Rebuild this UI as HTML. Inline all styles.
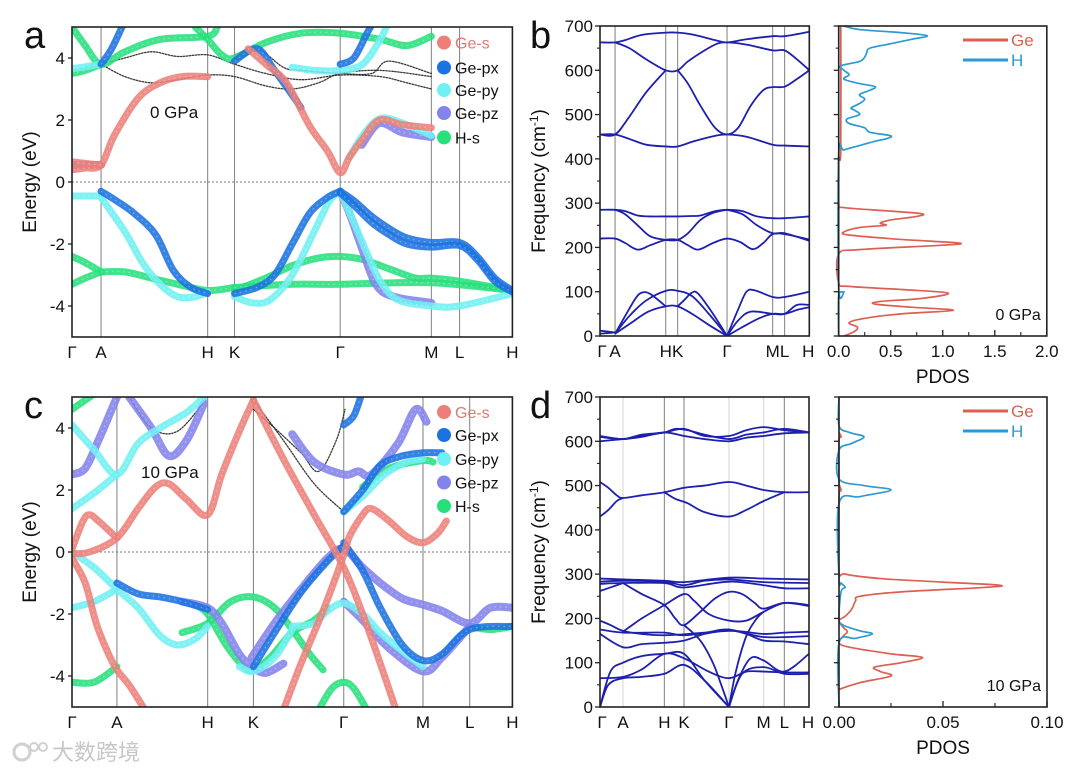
<!DOCTYPE html>
<html><head><meta charset="utf-8"><style>
html,body{margin:0;padding:0;background:#fff;}
svg{display:block;font-family:"Liberation Sans","Noto Sans CJK SC",sans-serif;}
</style></head><body>
<svg id="fig" width="1080" height="772" viewBox="0 0 1080 772">
<defs>
<clipPath id="clipA"><rect x="72" y="27" width="440.4" height="310"/></clipPath>
<clipPath id="clipC"><rect x="72" y="397" width="440.4" height="310"/></clipPath>
<clipPath id="clipB"><rect x="600" y="26" width="209.3" height="310"/></clipPath>
<clipPath id="clipD"><rect x="600" y="397" width="209" height="310"/></clipPath>
</defs>
<g id="root"></g>
</svg>
<script>
// ---------- DATA ----------
const kLabels = ["Γ","A","H","K","Γ","M","L","H"];
const kTicksA = [0,6.6,30.8,36.9,60.9,81.6,88.0,100];
const kTicksC = [0,10.2,30.8,41.2,61.7,79.7,90.3,100];
const kTicksB = [0,7.2,31.4,37.1,60.7,82.5,88.2,100];
const kTicksD = [0,11,30.8,40.2,61.7,78.3,88.2,100];
const energyTicks = [-4,-2,0,2,4];
const freqTicks = [0,100,200,300,400,500,600,700];
const pdosTicksB = [0,0.5,1.0,1.5,2.0];
const pdosTickLabelsB = ["0.0","0.5","1.0","1.5","2.0"];
const pdosTicksD = [0,0.05,0.10];
const pdosTickLabelsD = ["0.00","0.05","0.10"];
const orbitals = ["Ge-s","Ge-px","Ge-py","Ge-pz","H-s"];

// panel a (0 GPa) bands: [k%, E]
const aDotted = [
 [[6.6,3.8],[12,3.4],[18,3.2],[24,3.3],[30.8,3.45],[36.9,3.4],[44,3.1],[50,3.0],[56,3.2],[60.9,3.5],[70,3.6],[81.6,3.4]],
 [[6.6,3.8],[12,4.0],[18,4.2],[24,4.05],[30.8,4.1],[36.9,3.8],[44,3.5],[52,3.3],[60.9,3.45],[70,3.4],[76,3.2],[81.6,3.0]],
 [[36.9,4.1],[42,4.3],[48,3.7],[52,3.6],[60.9,3.5],[68,3.5],[72,3.9],[81.6,3.5]]
];
const aGeS = [
 [[0,0.4],[3,0.45],[6.6,0.55],[9.6,1.5],[15,2.7],[20,3.2],[25,3.4],[30.8,3.4]],
 [[0,0.65],[3,0.6],[6.6,0.55]],
 [[40,4.3],[44,3.8],[48.7,3.2],[54,1.8],[58,1.0],[60.9,0.3],[63,0.8],[65.8,1.35],[69.8,2.0],[75,1.85],[81.6,1.75]]
];
const aGePx = [
 [[6.6,-0.3],[10,-0.6],[14,-1.0],[19,-1.7],[23,-2.85],[27,-3.4],[30.8,-3.6]],
 [[36.9,-3.6],[42,-3.4],[46,-3.0],[50,-2.0],[54,-1.0],[58,-0.5],[60.9,-0.3]],
 [[60.9,-0.3],[64,-0.6],[68,-1.1],[72,-1.5],[76,-1.8],[81.6,-1.95],[88,-1.95],[92,-2.4],[96,-3.1],[100,-3.5]],
 [[60.9,-0.35],[64,-0.75],[68,-1.3],[72,-1.7],[76,-2.0],[81.6,-2.1],[88,-2.05],[92,-2.5],[96,-3.2],[100,-3.55]],
 [[6.6,3.8],[9,4.3],[12,5.2]],
 [[36.9,3.9],[42,4.3],[46,3.6],[52,2.4]],
 [[60.9,3.8],[64,4.0],[67,4.8],[69,5.3]]
];
const aGePy = [
 [[0,-0.45],[6.6,-0.45]],
 [[6.6,-0.5],[12,-1.6],[16,-2.6],[20,-3.3],[24,-3.7],[28,-3.7],[30.8,-3.55]],
 [[36.9,-3.7],[41,-3.9],[45,-3.8],[50,-3.0],[55,-1.6],[58.5,-0.6],[60.9,-0.3]],
 [[60.9,-0.3],[64,-1.3],[67,-2.3],[70,-3.2],[74,-3.8],[81.6,-4.0],[88,-4.0],[100,-3.6]],
 [[0,3.65],[6.6,3.8]],
 [[50,3.7],[55,3.6],[60.9,3.6],[66,3.8],[70,4.6],[72,5.2]],
 [[63,0.8],[66,1.5],[70,2.05],[75,1.9],[81.6,1.5]]
];
const aGePz = [
 [[0,0.55],[3,0.55],[6.6,0.55]],
 [[60.9,-0.3],[63,-1.0],[66,-2.2],[69,-3.3],[73,-3.7],[81.6,-3.9]],
 [[65.8,1.2],[69.8,1.9],[75,1.6],[81.6,1.45]]
];
const aHs = [
 [[0,-2.4],[3,-2.6],[6.6,-2.9]],
 [[0,-3.3],[3,-3.1],[6.6,-2.9]],
 [[6.6,-2.9],[12,-2.9],[18,-3.1],[24,-3.3],[30.8,-3.5],[36.9,-3.4]],
 [[36.9,-3.5],[44,-3.1],[50,-2.7],[56,-2.45],[60.9,-2.4],[66,-2.5],[72,-2.8],[78,-3.1],[81.6,-3.1],[88,-3.2],[100,-3.5]],
 [[36.9,-3.4],[50,-3.3],[60.9,-3.3],[81.6,-3.25],[100,-3.5]],
 [[0,5.0],[3,4.4],[6.6,3.8],[12,4.2],[20,4.6],[30.8,4.7],[33,5.0]],
 [[0,3.5],[3,3.6],[6.6,3.8]],
 [[28,5.0],[30.8,4.6],[34,4.1],[36.9,4.0],[44,4.5],[52,4.8],[60.9,4.8],[70,4.6],[76,4.4],[81.6,4.7]]
];

// panel c (10 GPa) bands
const cDotted = [
 [[13,5],[18,4.0],[24,3.9],[30.8,5]],
 [[41.2,4.9],[48,3.6],[55,2.2],[61.7,1.3]],
 [[41.2,4.6],[46,4.0],[52,3.2],[56,2.6],[60,3.6],[62,4.6]]
];
const cGeS = [
 [[0,-0.2],[3,-1.0],[5.5,-2.3],[8,-3.2],[10.2,-3.8],[13,-4.3],[16.6,-5.1]],
 [[0,0.1],[2.5,1.0],[4,1.2],[6,1.0],[10.2,0.45]],
 [[0,-0.05],[4,0.0],[10.2,0.45],[15,1.4],[19,2.1],[22,2.2],[26,1.7],[30.8,1.2],[34,2.5],[38,3.9],[41.2,4.9]],
 [[41.2,4.9],[48,3.0],[55,1.2],[61.7,-0.5],[66,-2.0],[70,-3.6],[73.6,-5.1]],
 [[48,-5.1],[52,-3.6],[57,-1.9],[61.7,-0.1],[63,0.5],[66,1.2],[68,1.4],[72,1.0],[76,0.5],[79.7,0.3],[83,0.6],[85,1.0]]
];
const cGePx = [
 [[10.2,-1.0],[15,-1.35],[20,-1.45],[25,-1.6],[30.8,-1.85]],
 [[41.2,-3.7],[46,-2.6],[52,-1.3],[58,-0.3],[61.7,0.2]],
 [[61.7,0.3],[66,-0.6],[70,-1.8],[75,-3.0],[79.7,-3.5],[84,-3.3],[90.3,-2.5],[100,-2.4]],
 [[61.7,1.3],[66,2.0],[70,2.8],[75,3.1],[79.7,3.2],[84,3.2]],
 [[61.7,4.1],[64,4.4],[66,5.2]]
];
const cGePy = [
 [[0,1.4],[5,1.9],[10.2,2.5]],
 [[0,4.1],[5,3.3],[10.2,2.5],[15,3.5],[20,4.0],[26,4.5],[30,5.0]],
 [[0,-1.8],[5,-1.6],[10.2,-1.2]],
 [[0,0.0],[5,-0.5],[10.2,-1.2],[15,-1.8],[20,-2.7],[24,-3.0],[28,-2.8],[30.8,-2.4]],
 [[50,-2.4],[55,-2.3],[58,-1.9],[61.7,-1.65],[66,-2.0],[70,-2.6],[75,-3.2],[79.7,-3.7]],
 [[61.7,1.3],[66,1.8],[71,2.5],[76,2.9],[79.7,3.0]],
 [[38,-3.7],[41.2,-3.85],[46,-3.4],[50,-2.5]]
];
const cGePz = [
 [[0,2.5],[3,2.7],[6,3.6],[9,4.6],[10.5,5.1]],
 [[13,5],[18,4.0],[22,3.1],[26,3.6],[30,4.8]],
 [[25,-1.6],[30.8,-1.8],[34,-2.3],[38,-3.3],[41,-3.7],[44,-3.9],[48,-3.6]],
 [[40.8,-3.4],[46,-2.3],[52,-1.2],[58,-0.2],[61.7,0.1],[66,-0.5],[70,-1.0],[75,-1.5],[79.7,-1.7],[84,-1.9],[90.3,-2.3],[95,-1.8],[100,-1.8]],
 [[50,3.8],[55,2.9],[61.7,2.5],[65,2.6],[68,2.5],[74,3.5],[78,4.6],[80.5,4.2]],
 [[61.7,-1.6],[66,-2.2],[72,-3.1],[79.7,-3.85],[84,-3.4],[90.3,-2.4]]
];
const cHs = [
 [[0,-4.2],[5,-4.2],[10.2,-3.7]],
 [[0,4.6],[3,4.9],[5,5.1]],
 [[25,-2.6],[30.8,-2.3],[36,-1.6],[41.2,-1.45],[46,-1.8],[50,-2.5],[54,-3.3],[57,-3.8]],
 [[28,-1.7],[30.8,-2.0],[35,-3.0],[39,-3.7],[41.2,-3.8],[45,-3.4],[50,-2.6],[55,-2.2],[58,-1.8]],
 [[56,-5.1],[59,-4.4],[61.7,-4.2],[64,-4.4],[67,-5.1]],
 [[66,2.1],[72,2.7],[79.7,2.95],[82,2.9]],
 [[90.3,-2.4],[95,-2.5],[100,-2.4]]
];

// panel b phonons (0 GPa): [k%, freq]
const bPhonons = [
 [[0,663],[7.2,663],[12,668],[20,680],[31.4,685],[37.1,685],[45,680],[55,668],[60.7,663],[70,670],[82.5,677],[88.2,677],[100,687]],
 [[7.2,663],[14,650],[22,625],[31.4,600],[37.1,600],[42,620],[50,645],[56,660],[60.7,663],[70,658],[82.5,645],[88.2,645],[94,625],[100,600]],
 [[0,455],[7.2,455],[14,495],[22,550],[31.4,600]],
 [[37.1,600],[42,570],[48,520],[55,470],[60.7,455],[66,470],[72,520],[78,555],[82.5,562],[88.2,563],[94,580],[100,600]],
 [[0,455],[7.2,455],[14,445],[22,432],[31.4,428],[37.1,428],[45,440],[55,452],[60.7,455],[70,450],[82.5,432],[88.2,430],[100,428]],
 [[0,285],[7.2,285],[12,282],[18,272],[24,270],[31.4,270],[37.1,270],[44,271],[48,272],[55,282],[60.7,285],[68,282],[75,270],[82.5,266],[88.2,266],[100,270]],
 [[7.2,285],[12,275],[18,250],[24,225],[31.4,217],[37.1,217],[42,232],[48,262],[54,278],[60.7,285]],
 [[60.7,285],[68,275],[75,250],[82.5,232],[88.2,232],[100,215]],
 [[0,220],[7.2,220],[12,210],[18,195],[24,205],[31.4,217],[37.1,217],[42,205],[47,195],[54,210],[60.7,220],[67,212],[73,196],[78,210],[82.5,230],[88.2,230],[100,218]],
 [[7.2,5],[12,45],[17,85],[20,98],[24,95],[31.4,67]],
 [[7.2,5],[14,45],[22,80],[31.4,102],[37.1,102],[44,90],[52,50],[60.7,0]],
 [[7.2,5],[15,30],[23,55],[31.4,67],[37.1,67],[44,50],[52,25],[60.7,0]],
 [[37.1,67],[40,80],[44,98],[47,95],[54,50],[60.7,0]],
 [[60.7,0],[66,60],[70,100],[74,103],[82.5,88],[88.2,88],[100,100]],
 [[60.7,0],[66,35],[72,55],[82.5,50],[88.2,50],[94,70],[100,70]],
 [[60.7,0],[68,20],[76,40],[82.5,50],[88.2,50],[95,60],[100,65]],
 [[0,12],[7.2,8]],
 [[0,5],[7.2,8]]
];
// panel d phonons (10 GPa)
const dPhonons = [
 [[0,612],[11,605],[20,612],[30.8,620],[40.2,628],[50,612],[61.7,612],[70,625],[78.3,632],[88.2,625],[100,620]],
 [[0,600],[11,605],[20,610],[30.8,620],[40.2,612],[50,605],[61.7,600],[70,608],[78.3,612],[88.2,618],[100,620]],
 [[0,610],[11,605],[20,615],[30.8,620],[36,628],[42,625],[50,615],[61.7,605],[70,615],[78.3,620],[88.2,628],[100,620]],
 [[0,508],[4,495],[8,478],[11,472],[20,478],[30.8,485],[40.2,495],[50,500],[61.7,508],[70,500],[78.3,490],[88.2,485],[100,485]],
 [[0,430],[4,445],[8,465],[11,472]],
 [[30.8,485],[36,470],[42,460],[50,440],[61.7,430],[70,445],[78.3,465],[88.2,485]],
 [[0,290],[11,288],[30.8,285],[40.2,282],[61.7,292],[78.3,290],[100,288]],
 [[0,283],[11,285],[30.8,283],[40.2,275],[50,285],[61.7,288],[78.3,282],[100,280]],
 [[0,278],[11,280],[30.8,280],[40.2,270],[61.7,283],[78.3,275],[88.2,268],[100,268]],
 [[0,262],[5,270],[11,280]],
 [[11,170],[20,200],[30.8,230],[40.2,255],[45,240],[52,210],[61.7,195],[70,195],[78.3,215],[88.2,235],[100,230]],
 [[11,280],[20,255],[30.8,230],[36,200],[40.2,185],[48,215],[55,245],[61.7,260],[68,255],[74,235],[78.3,222],[88.2,235],[100,228]],
 [[40.2,185],[48,150],[54,100],[58,50],[61.7,0]],
 [[0,175],[11,168],[30.8,168],[40.2,162],[61.7,172],[78.3,165],[88.2,168],[100,170]],
 [[0,195],[5,185],[11,172],[20,165],[30.8,162],[50,168],[61.7,175],[78.3,158],[100,160]],
 [[0,165],[11,135],[20,142],[30.8,145],[40.2,150],[50,165],[61.7,175]],
 [[61.7,175],[70,165],[78.3,150],[88.2,148],[100,142]],
 [[0,0],[4,50],[11,65],[20,68],[30.8,75],[40.2,95],[50,60],[61.7,0]],
 [[0,0],[5,80],[11,100],[20,115],[30.8,120],[40.2,120],[50,60],[61.7,0]],
 [[0,65],[11,68],[20,85],[30.8,120],[40.2,110],[52,80],[61.7,65],[70,80],[78.3,80],[88.2,78],[100,78]],
 [[61.7,0],[66,60],[72,110],[78.3,105],[88.2,80],[100,120]],
 [[61.7,0],[68,75],[78.3,90],[88.2,75],[100,75]],
 [[61.7,0],[65,80],[70,160],[75,200],[78.3,215]]
];

// PDOS: [freq, dos]
const bPdosH = [[0,0],[90,0],[100,0.05],[110,0],[410,0],[420,0.05],[430,0.2],[440,0.35],[445,0.45],[452,0.5],[460,0.3],[470,0.25],[480,0.1],[490,0.08],[500,0.2],[510,0.15],[515,0.12],[525,0.2],[535,0.25],[545,0.2],[555,0.3],[563,0.35],[570,0.2],[580,0.05],[590,0.1],[600,0.05],[610,0.02],[620,0.2],[630,0.25],[640,0.27],[650,0.3],[660,0.5],[670,0.7],[678,0.85],[685,0.6],[692,0.2],[700,0.05]];
const bPdosGe = [[0,0.05],[10,0.15],[20,0.18],[30,0.1],[40,0.25],[50,0.6],[58,1.1],[65,0.7],[72,0.35],[78,0.4],[85,0.8],[97,1.05],[105,0.6],[112,0.1],[120,0.0],[185,0.0],[195,0.2],[205,1.0],[210,1.15],[218,0.6],[228,0.1],[235,0.05],[245,0.2],[250,0.45],[255,0.4],[262,0.5],[270,0.75],[276,0.8],[282,0.5],[290,0.05],[300,0.0],[400,0.0],[420,0.02],[700,0.02]];
const dPdosH = [[0,0],[145,0],[155,0.008],[165,0.016],[172,0.01],[185,0.002],[200,0],[260,0.001],[270,0.003],[280,0.001],[290,0],[460,0],[475,0.01],[490,0.025],[500,0.012],[515,0],[580,0],[595,0.006],[610,0.012],[620,0.005],[635,0],[700,0]];
const dPdosGe = [[40,0],[55,0.01],[70,0.025],[80,0.02],[90,0.017],[100,0.03],[112,0.04],[120,0.025],[135,0.005],[145,0.0],[160,0.002],[170,0.004],[180,0.002],[195,0.0],[205,0.003],[220,0.006],[240,0.008],[250,0.01],[260,0.03],[270,0.07],[275,0.077],[282,0.05],[290,0.02],[300,0.003],[310,0],[470,0],[490,0.001],[510,0],[600,0],[610,0.001],[620,0]];

// ---------- DRAWING ----------
const NS = "http://www.w3.org/2000/svg";
const root = document.getElementById("root");
function el(tag, attrs, parent){
  const e = document.createElementNS(NS, tag);
  for (const k in attrs) e.setAttribute(k, attrs[k]);
  (parent||root).appendChild(e);
  return e;
}
function txt(s, attrs, parent){ const t = el("text", attrs, parent); t.textContent = s; return t; }
function lin(a,b,c,d){ return v => c + (v-a)*(d-c)/(b-a); }
function smooth(pts){
  if (pts.length<2) return "";
  let d = "M"+pts[0][0].toFixed(2)+","+pts[0][1].toFixed(2);
  for (let i=0;i<pts.length-1;i++){
    const p0=pts[i-1]||pts[i], p1=pts[i], p2=pts[i+1], p3=pts[i+2]||pts[i+1];
    const c1x=p1[0]+(p2[0]-p0[0])/6, c1y=p1[1]+(p2[1]-p0[1])/6;
    const c2x=p2[0]-(p3[0]-p1[0])/6, c2y=p2[1]-(p3[1]-p1[1])/6;
    d += " C"+c1x.toFixed(2)+","+c1y.toFixed(2)+" "+c2x.toFixed(2)+","+c2y.toFixed(2)+" "+p2[0].toFixed(2)+","+p2[1].toFixed(2);
  }
  return d;
}

function bandPanel(cfg){
  const {x0,x1,y0,y1,kt,clip,name} = cfg;
  const X = lin(0,100,x0,x1), Y = lin(-5,5,y1,y0);
  const g = el("g",{});
  
  
  kt.slice(1,-1).forEach((k,i)=>{
    const l = el("line",{x1:X(k),x2:X(k),y1:y0,y2:y1,stroke:"#8a8a8a","stroke-width":1.1},g);
    
    
  });
  const zl = el("line",{x1:x0,x2:x1,y1:Y(0),y2:Y(0),stroke:"#777","stroke-width":0.9,"stroke-dasharray":"2,2"},g);
  
  
  const bg = el("g",{"clip-path":"url(#"+clip+")"},g);
  const series = [
    [cfg.dotted,"#222",1.3,"1.5,1.5","dotted-band"],
    [cfg.hs,"#27e07c",7,null,"h-s-band"],
    [cfg.pz,"#8383ec",8,null,"ge-pz-band"],
    [cfg.py,"#6ff0f2",7,null,"ge-py-band"],
    [cfg.px,"#1b72e0",7,null,"ge-px-band"],
    [cfg.s,"#ec8079",7,null,"ge-s-band"]
  ];
  series.forEach(([bands,col,w,dash,nm])=>{
    bands.forEach(b=>{
      const pts = b.map(p=>[X(p[0]),Y(p[1])]);
      const a = {d:smooth(pts),fill:"none",stroke:col,"stroke-width":w,"stroke-linecap":"round","stroke-linejoin":"round","stroke-opacity":dash?0.9:0.88};
      if (dash) a["stroke-dasharray"]=dash;
      const p = el("path",a,bg);
      
      
      if (!dash){
        const p2 = el("path",{d:smooth(pts),fill:"none",stroke:"#ffffff","stroke-width":1.2,"stroke-opacity":0.35,"stroke-dasharray":"1.5,4"},bg);
        
        
      }
    });
  });
  const fr = el("rect",{x:x0,y:y0,width:x1-x0,height:y1-y0,fill:"none",stroke:"#222","stroke-width":1.6},g);
  
  
  energyTicks.forEach(v=>{
    const t = el("line",{x1:x0-4,x2:x0,y1:Y(v),y2:Y(v),stroke:"#222","stroke-width":1.3},g);
    
    
    const tl = txt(String(v),{x:x0-7,y:Y(v)+6,"text-anchor":"end","font-size":17,fill:"#111"},g);
    
    
  });
  kt.forEach((k,i)=>{
    const tl = txt(kLabels[i],{x:X(k),y:y1+21,"text-anchor":"middle","font-size":17,fill:"#111"},g);
    
    
  });
  const yt = txt("Energy (eV)",{x:0,y:0,"text-anchor":"middle","font-size":19,fill:"#111",transform:"translate(36,"+((y0+y1)/2)+") rotate(-90)"},g);
  
  
  const lcol = ["#ec8079","#1b72e0","#6ff0f2","#8383ec","#27e07c"];
  const lg = el("g",{},g);
  
  
  orbitals.forEach((o,i)=>{
    const yy = cfg.legY[i];
    const c = el("circle",{cx:444,cy:yy,r:7,fill:lcol[i]},lg);
    
    
    const t = txt(o,{x:455,y:yy+6,"font-size":16,fill:i===0?"#e0776f":"#111"},lg);
    
    
  });
  const pr = txt(cfg.pressure,{x:cfg.pX,y:cfg.pY,"font-size":17,fill:"#111"},g);
  
  
}

function phononPanel(cfg){
  const {x0,x1,y0,y1,kt,clip,name,bands} = cfg;
  const X = lin(0,100,x0,x1), Y = lin(0,700,y1,y0);
  const g = el("g",{});
  
  
  kt.slice(1,-1).forEach((k,i)=>{
    const faint = cfg.faint && cfg.faint.indexOf(i)>=0;
    const l = el("line",{x1:X(k),x2:X(k),y1:y0,y2:y1,stroke:faint?"#d8d8d8":"#8a8a8a","stroke-width":1.1},g);
    
    
  });
  const bg = el("g",{"clip-path":"url(#"+clip+")"},g);
  bands.forEach(b=>{
    const p = el("path",{d:smooth(b.map(q=>[X(q[0]),Y(q[1])])),fill:"none",stroke:"#1d1fae","stroke-width":1.8},bg);
    
    
  });
  const fr = el("rect",{x:x0,y:y0,width:x1-x0,height:y1-y0,fill:"none",stroke:"#222","stroke-width":1.6},g);
  
  
  freqTicks.forEach(v=>{
    const t = el("line",{x1:x0-5,x2:x0,y1:Y(v),y2:Y(v),stroke:"#222","stroke-width":1.3},g);
    
    
    if (v+50<700){
      const m = el("line",{x1:x0-3,x2:x0,y1:Y(v+50),y2:Y(v+50),stroke:"#222","stroke-width":1.1},g);
      
      
    }
    const tl = txt(String(v),{x:x0-7,y:Y(v)+6,"text-anchor":"end","font-size":17,fill:"#111"},g);
    
    
  });
  kt.forEach((k,i)=>{
    const tl = txt(kLabels[i],{x:X(k)+(i===0?2:0)-(i===7?1:0),y:y1+21,"text-anchor":"middle","font-size":17,fill:"#111"},g);
    
    
  });
  const yt = txt("Frequency (cm",{x:0,y:0,"text-anchor":"middle","font-size":19,fill:"#111",transform:"translate(545,"+((y0+y1)/2)+") rotate(-90)"},g);
  const sup = el("tspan",{"font-size":12,dy:-7},yt); sup.textContent="-1";
  const cl = el("tspan",{"font-size":19,dy:7},yt); cl.textContent=")";
  
  
}

function pdosPanel(cfg){
  const {x0,x1,y0,y1,xmax,ticks,tickLabels,ge,h,name} = cfg;
  const X = lin(0,xmax,x0,x1), Y = lin(0,700,y1,y0);
  const g = el("g",{});
  
  
  const pg = el("path",{d:smooth(ge.map(q=>[X(q[1]),Y(q[0])])),fill:"none",stroke:"#dd5f52","stroke-width":1.7},g);
  
  
  const ph = el("path",{d:smooth(h.map(q=>[X(q[1]),Y(q[0])])),fill:"none",stroke:"#2a9ad4","stroke-width":1.7},g);
  
  
  const fr = el("rect",{x:x0,y:y0,width:x1-x0,height:y1-y0,fill:"none",stroke:"#222","stroke-width":1.6},g);
  
  
  freqTicks.forEach(v=>{
    const t = el("line",{x1:x0-5,x2:x0,y1:Y(v),y2:Y(v),stroke:"#222","stroke-width":1.3},g);
    
    
    if (v+50<700){
      const m = el("line",{x1:x0-3,x2:x0,y1:Y(v+50),y2:Y(v+50),stroke:"#222","stroke-width":1.1},g);
      
      
    }
  });
  ticks.forEach((v,i)=>{
    const t = el("line",{x1:X(v),x2:X(v),y1:y1,y2:y1-6,stroke:"#222","stroke-width":1.3},g);
    
    
    if (i<ticks.length-1){
      const m = el("line",{x1:X((v+ticks[i+1])/2),x2:X((v+ticks[i+1])/2),y1:y1,y2:y1-4,stroke:"#222","stroke-width":1.1},g);
      
      
    }
    const tl = txt(tickLabels[i],{x:X(v),y:y1+21,"text-anchor":"middle","font-size":17,fill:"#111"},g);
    
    
  });
  const xt = txt("PDOS",{x:(x0+x1)/2,y:y1+47,"text-anchor":"middle","font-size":19,fill:"#111"},g);
  
  
  const lg = el("g",{},g);
  
  
  [["Ge","#dd5f52"],["H","#2a9ad4"]].forEach((e,i)=>{
    const yy = y0+14+i*20;
    const l = el("line",{x1:963,x2:1008,y1:yy,y2:yy,stroke:e[1],"stroke-width":3},lg);
    
    
    const t = txt(e[0],{x:1011,y:yy+6,"font-size":17,fill:e[1]},lg);
    
    
  });
  const pr = txt(cfg.pressure,{x:x1-6,y:y1-16,"text-anchor":"end","font-size":16,fill:"#111"},g);
  
  
}

bandPanel({name:"panel-a-band-structure",x0:72,x1:512.4,y0:27,y1:337,kt:kTicksA,clip:"clipA",
  dotted:aDotted,s:aGeS,px:aGePx,py:aGePy,pz:aGePz,hs:aHs,legY:[42.6,67.5,90,113,137.4],pressure:"0 GPa",pX:150,pY:118});
bandPanel({name:"panel-c-band-structure",x0:72,x1:512.4,y0:397,y1:707,kt:kTicksC,clip:"clipC",
  dotted:cDotted,s:cGeS,px:cGePx,py:cGePy,pz:cGePz,hs:cHs,legY:[412,435,459,482.5,506],pressure:"10 GPa",pX:141,pY:478});
phononPanel({name:"panel-b-phonon-dispersion",x0:600,x1:809.3,y0:26,y1:336,kt:kTicksB,clip:"clipB",bands:bPhonons});
phononPanel({name:"panel-d-phonon-dispersion",x0:600,x1:809,y0:397,y1:707,kt:kTicksD,clip:"clipD",bands:dPhonons,faint:[0,3,4]});
pdosPanel({name:"panel-b-pdos",x0:838.7,x1:1046.8,y0:26,y1:336,xmax:2.0,ticks:pdosTicksB,tickLabels:pdosTickLabelsB,ge:bPdosGe,h:bPdosH,pressure:"0 GPa"});
pdosPanel({name:"panel-d-pdos",x0:839,x1:1047,y0:397,y1:707,xmax:0.10,ticks:pdosTicksD,tickLabels:pdosTickLabelsD,ge:dPdosGe,h:dPdosH,pressure:"10 GPa"});

[["a",24,48],["b",530,48],["c",24,418],["d",530,418]].forEach(p=>{
  const t = txt(p[0],{x:p[1],y:p[2],"font-size":38,fill:"#111"});
  
  
});
const wm = el("g",{opacity:0.55});


el("circle",{cx:22,cy:752,r:8,fill:"none",stroke:"#aaa","stroke-width":3},wm);
el("circle",{cx:34,cy:747,r:4,fill:"none",stroke:"#aaa","stroke-width":2},wm);
el("circle",{cx:43,cy:747,r:4,fill:"none",stroke:"#aaa","stroke-width":2},wm);
const wt = txt("大数跨境",{x:52,y:760,"font-size":22,fill:"#999"},wm);


</script>
</body></html>
